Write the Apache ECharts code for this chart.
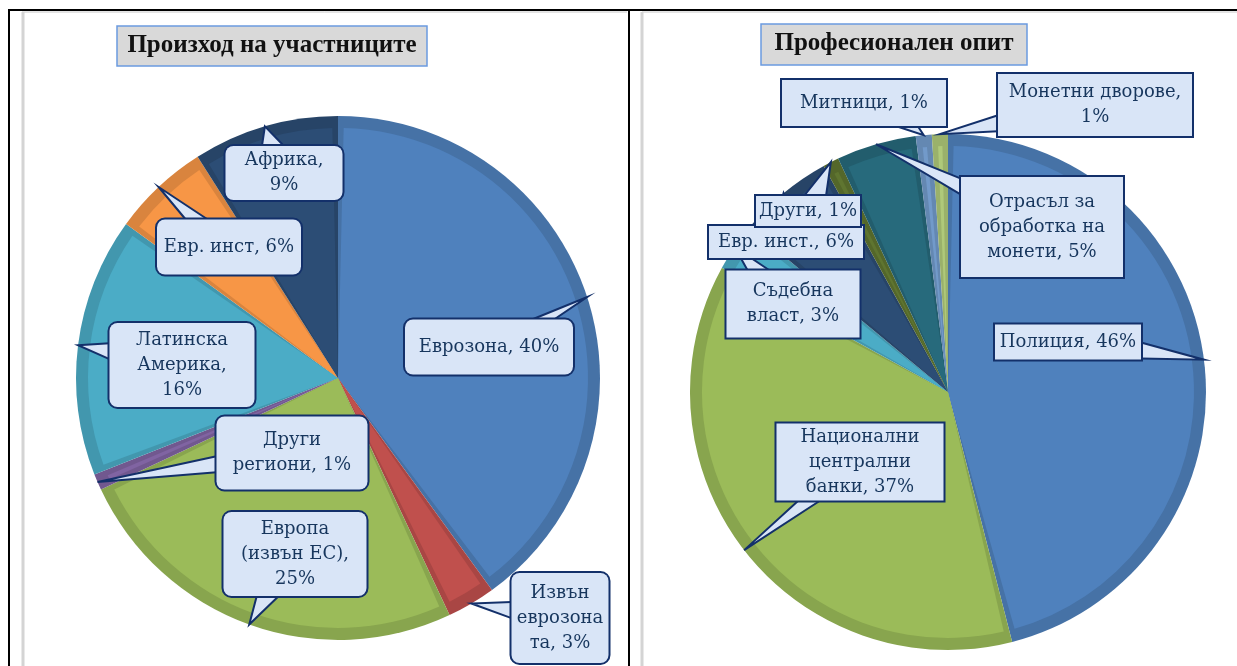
<!DOCTYPE html>
<html>
<head>
<meta charset="utf-8">
<script src="https://cdn.jsdelivr.net/npm/echarts@6/dist/echarts.min.js"></script>
<style>
  html, body { margin: 0; padding: 0; background: #fff; }
  #main { width: 1237px; height: 666px; }
</style>
</head>
<body>
<div id="main"></div>
<script>
// ляв кръг: произход на участниците
const originNames = ['Еврозона', 'Извън еврозоната', 'Европа (извън ЕС)', 'Други региони', 'Латинска Америка', 'Евр. инст', 'Африка']
const originValues = [40, 3, 25, 1, 16, 6, 9]
const originLabels = ['Еврозона, {v}%', 'Извън\nеврозона\nта, {v}%', 'Европа\n(извън ЕС),\n{v}%', 'Други\nрегиони, {v}%', 'Латинска\nАмерика,\n{v}%', 'Евр. инст, {v}%', 'Африка,\n{v}%']

// десен кръг: професионален опит
const expNames = ['Полиция', 'Национални централни банки', 'Съдебна власт', 'Евр. инст.', 'Други', 'Отрасъл за обработка на монети', 'Митници', 'Монетни дворове']
const expValues = [46, 37, 3, 6, 1, 5, 1, 1]
const expLabels = ['Полиция, {v}%', 'Национални\nцентрални\nбанки, {v}%', 'Съдебна\nвласт, {v}%', 'Евр. инст., {v}%', 'Други, {v}%', 'Отрасъл за\nобработка на\nмонети, {v}%', 'Митници, {v}%', 'Монетни дворове,\n{v}%']

// layout of the callout boxes: [cx, cy, w, h]
const originBoxes = [[489, 347, 168, 55], [560, 618, 97, 90], [295, 554, 143, 84], [292, 453, 151, 73], [182, 365, 145, 84], [229, 247, 144, 55], [284, 173, 117, 54]]
const expBoxes = [[1068, 342, 146, 35], [860, 462, 167, 76], [793, 304, 133, 67], [786, 242, 154, 32], [808, 211, 104, 30], [1042, 227, 162, 100], [864, 103, 164, 46], [1095, 105, 194, 62]]

const originColors = ['#4f81bd', '#c0504d', '#9bbb59', '#8064a2', '#4bacc6', '#f79646', '#2c4d75']
const expColors = ['#4f81bd', '#9bbb59', '#4bacc6', '#2c4d75', '#5f7530', '#276a7c', '#729aca', '#afc97a']

const NAVY = '#13306a'
const BOX_FILL = '#d9e5f7'
const LINE_H = 25

const darken = (hex, k) => {
    const n = parseInt(hex.slice(1), 16)
    const r = Math.round(((n >> 16) & 255) * k)
    const g = Math.round(((n >> 8) & 255) * k)
    const b = Math.round((n & 255) * k)
    return `rgb(${r},${g},${b})`
}

// three pies on top of each other: dark rim, lighter inner part, and a clear one that only carries the callouts
const pie_set = (cfg) => {
    const band = 12
    const under = {
        type: 'pie', z: 1, silent: true,
        center: cfg.center, radius: cfg.r, startAngle: 90,
        label: { show: false }, labelLine: { show: false },
        emphasis: { disabled: true },
        data: cfg.values.map((v, i) => ({
            name: cfg.names[i], value: v,
            itemStyle: { color: darken(cfg.colors[i], 0.88) }
        }))
    }
    const inner = {
        type: 'pie', z: 2, silent: true,
        center: cfg.center, radius: cfg.r - band, startAngle: 90, padAngle: 2.6,
        label: { show: false }, labelLine: { show: false },
        emphasis: { disabled: true },
        data: cfg.values.map((v, i) => ({
            name: cfg.names[i], value: v,
            itemStyle: { color: cfg.colors[i] }
        }))
    }
    const callouts = {
        type: 'pie', z: 3, silent: true,
        center: cfg.center, radius: cfg.r, startAngle: 90,
        avoidLabelOverlap: false,
        emphasis: { disabled: true },
        itemStyle: { color: 'rgba(0,0,0,0)' },
        label: {
            show: true, position: 'outside', overflow: 'none',
            formatter: (p) => cfg.labels[p.dataIndex].replace('{v}', p.value),
            fontFamily: 'DejaVu Serif', fontSize: 18, lineHeight: LINE_H,
            color: '#17365d', backgroundColor: BOX_FILL,
            borderColor: NAVY, borderWidth: 2, borderRadius: cfg.rounded ? 8 : 0,
            align: 'center'
        },
        labelLine: { show: true, length: 8, length2: 8, lineStyle: { color: NAVY, width: 2, join: 'miter' } },
        labelLayout: (p) => {
            const b = cfg.boxes[p.dataIndex]
            const tip = p.labelLinePoints[0]
            const hw = b[2] / 2, hh = b[3] / 2
            const dx = tip[0] - b[0], dy = tip[1] - b[1]
            const tx = Math.abs(dx) > 1e-6 ? hw / Math.abs(dx) : Infinity
            const ty = Math.abs(dy) > 1e-6 ? hh / Math.abs(dy) : Infinity
            let A, B
            if (tx < ty) {
                const ix = b[0] + dx * tx
                let iy = b[1] + dy * tx
                iy = Math.max(b[1] - hh + 9, Math.min(b[1] + hh - 9, iy))
                A = [ix, iy - 8]; B = [ix, iy + 8]
            } else {
                let ix = b[0] + dx * ty
                const iy = b[1] + dy * ty
                ix = Math.max(b[0] - hw + 12, Math.min(b[0] + hw - 12, ix))
                A = [ix - 11, iy]; B = [ix + 11, iy]
            }
            return { x: b[0], y: b[1], align: 'center', verticalAlign: 'middle', labelLinePoints: [A, tip, B] }
        },
        data: cfg.values.map((v, i) => {
            const b = cfg.boxes[i]
            const lines = cfg.labels[i].split('\n').length
            const pv = Math.max(1, (b[3] - lines * LINE_H) / 2)
            return {
                name: cfg.names[i], value: v,
                label: { padding: [pv, 2], width: b[2] - 4 }
            }
        })
    }
    return [under, inner, callouts]
}

const myChart = echarts.init(document.getElementById('main'))

const option = {
    animation: false,
    graphic: [
        // table lines
        { type: 'line', shape: { x1: 8, y1: 10, x2: 1237, y2: 10 }, style: { stroke: '#000', lineWidth: 2 } },
        { type: 'line', shape: { x1: 9, y1: 10, x2: 9, y2: 666 }, style: { stroke: '#000', lineWidth: 2 } },
        { type: 'line', shape: { x1: 629, y1: 10, x2: 629, y2: 666 }, style: { stroke: '#000', lineWidth: 2 } },
        // chart frames
        { type: 'line', shape: { x1: 22, y1: 12, x2: 627, y2: 12 }, style: { stroke: '#c8c8c8', lineWidth: 1 } },
        { type: 'line', shape: { x1: 23, y1: 12, x2: 23, y2: 666 }, style: { stroke: '#d4d4d4', lineWidth: 3 } },
        { type: 'line', shape: { x1: 642, y1: 12, x2: 1237, y2: 12 }, style: { stroke: '#c8c8c8', lineWidth: 1 } },
        { type: 'line', shape: { x1: 642, y1: 12, x2: 642, y2: 666 }, style: { stroke: '#d4d4d4', lineWidth: 3 } },
        // titles
        { type: 'rect', shape: { x: 117, y: 26, width: 310, height: 40 }, style: { fill: '#d9d9d9', stroke: '#6b9be0', lineWidth: 1.5 } },
        { type: 'text', x: 272, y: 46, style: { text: 'Произход на участниците', font: 'bold 25px "Liberation Serif"', fill: '#111', align: 'center', verticalAlign: 'middle' } },
        { type: 'rect', shape: { x: 761, y: 24, width: 266, height: 41 }, style: { fill: '#d9d9d9', stroke: '#6b9be0', lineWidth: 1.5 } },
        { type: 'text', x: 894, y: 44, style: { text: 'Професионален опит', font: 'bold 25px "Liberation Serif"', fill: '#111', align: 'center', verticalAlign: 'middle' } }
    ],
    series: [
        ...pie_set({ names: originNames, values: originValues, labels: originLabels, colors: originColors, boxes: originBoxes, center: [338, 378], r: 262, rounded: true }),
        ...pie_set({ names: expNames, values: expValues, labels: expLabels, colors: expColors, boxes: expBoxes, center: [948, 392], r: 258, rounded: false })
    ]
}

myChart.setOption(option)

// fill the callout pointers like the boxes
myChart.getZr().storage.getDisplayList(true).forEach(el => {
    if (el.type === 'polyline' && el.style && el.style.stroke === NAVY) {
        el.setStyle('fill', BOX_FILL)
    }
})
myChart.getZr().refreshImmediately()
</script>
</body>
</html>
